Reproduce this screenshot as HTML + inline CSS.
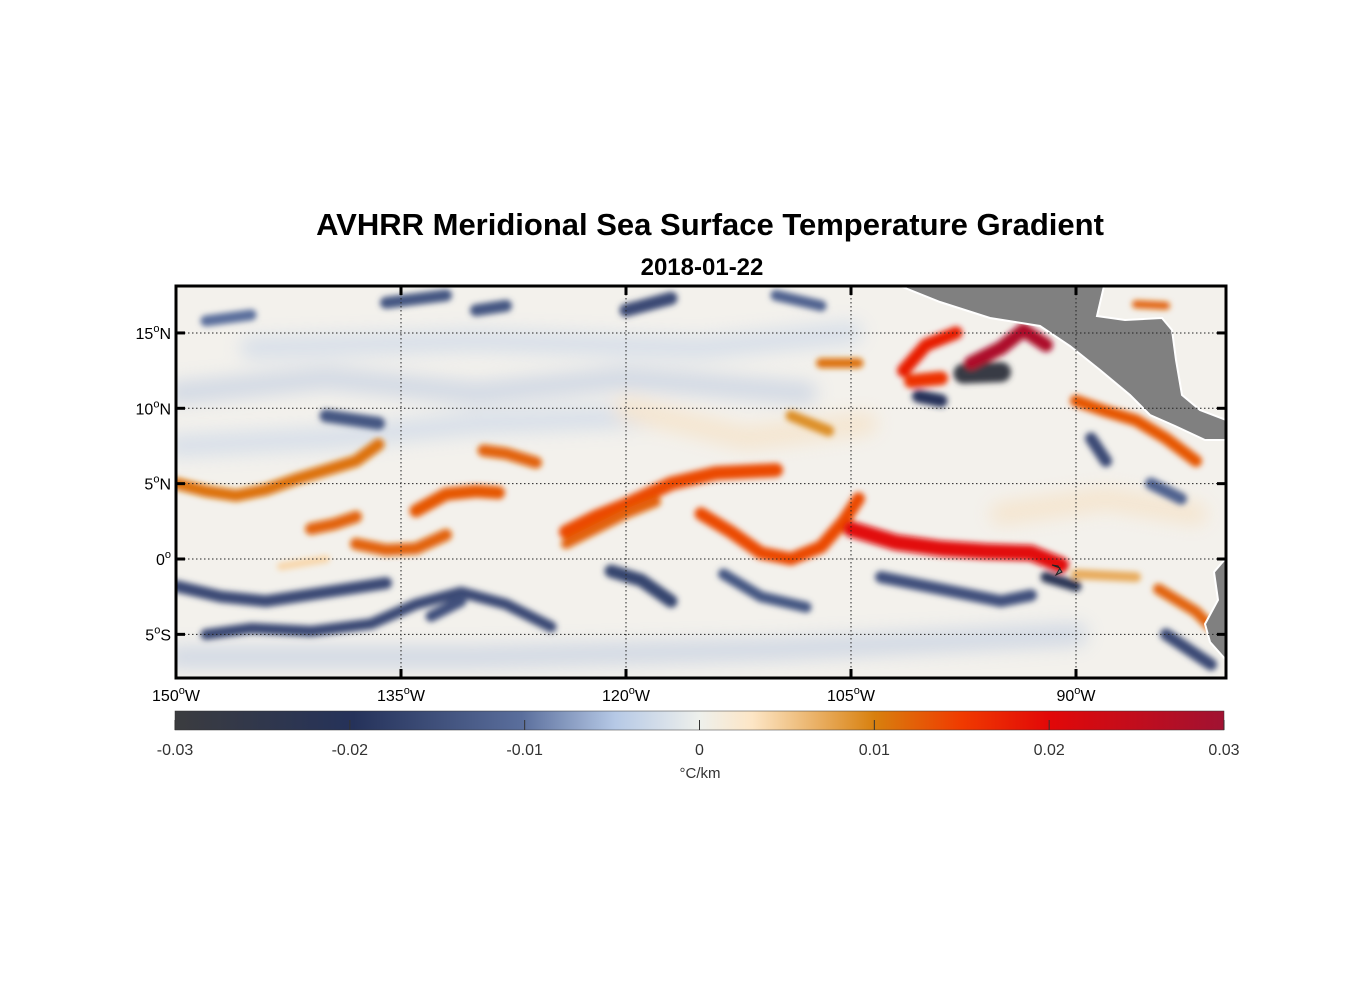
<!DOCTYPE html>
<html><head><meta charset="utf-8">
<style>
body{margin:0;background:#fff;width:1356px;height:1000px;overflow:hidden;font-family:"Liberation Sans",sans-serif}
</style></head>
<body>
<svg id="chart" width="1356" height="1000" xmlns="http://www.w3.org/2000/svg" font-family="Liberation Sans, sans-serif">
<defs>
<filter id="blur" x="-20%" y="-50%" width="140%" height="200%"><feGaussianBlur stdDeviation="3"/></filter>
<filter id="blur2" x="-20%" y="-50%" width="140%" height="200%"><feGaussianBlur stdDeviation="9"/></filter>
<clipPath id="mapclip"><rect x="176" y="286" width="1050" height="392"/></clipPath>
<linearGradient id="cbgrad" x1="0" x2="1" y1="0" y2="0">
<stop offset="0" stop-color="#3b3c3f"/>
<stop offset="0.17" stop-color="#25325a"/>
<stop offset="0.33" stop-color="#5a6e9c"/>
<stop offset="0.42" stop-color="#b6c9e6"/>
<stop offset="0.5" stop-color="#eef0ec"/>
<stop offset="0.55" stop-color="#fde6c6"/>
<stop offset="0.667" stop-color="#d8800e"/>
<stop offset="0.75" stop-color="#f03a00"/>
<stop offset="0.833" stop-color="#e20808"/>
<stop offset="1" stop-color="#a01232"/>
</linearGradient>
</defs>
<text x="710" y="235" text-anchor="middle" font-size="31" font-weight="bold">AVHRR Meridional Sea Surface Temperature Gradient</text>
<text x="702" y="275" text-anchor="middle" font-size="24" font-weight="bold">2018-01-22</text>
<g id="map" clip-path="url(#mapclip)">
<rect x="176" y="286" width="1050" height="392" fill="#f3f1ec"/>
<g id="soft" filter="url(#blur2)" opacity="0.45"></g>
<g id="bands" filter="url(#blur)"></g>
<path d="M900,286 L940,302 L990,318 L1040,326 L1070,346 L1100,370 L1130,395 L1150,415 L1175,426 L1205,440 L1226,440 L1226,420 L1200,410 L1182,395 L1176,360 L1172,330 L1162,318 L1125,320 L1097,316 L1104,286 Z" fill="#808080" stroke="#fff" stroke-width="2"/>
<path d="M1226,558 L1214,572 L1218,600 L1205,624 L1210,642 L1226,660 Z" fill="#808080" stroke="#fff" stroke-width="2"/>
<path d="M1052,565 L1060,568 L1056,575 L1062,572 L1058,566 Z" fill="#808080" stroke="#222" stroke-width="1"/>
<g id="grid"></g>
</g>
<rect x="176" y="286" width="1050" height="392" fill="none" stroke="#000" stroke-width="3"/>
<g id="ticks"></g>
<rect x="175" y="711" width="1049" height="19" fill="url(#cbgrad)" stroke="#333" stroke-width="0.5"/>
<g id="cbticks"></g>
<text x="700" y="778" text-anchor="middle" font-size="15" fill="#333">°C/km</text>
</svg>
<script>
const lonTicks=[-150,-135,-120,-105,-90];
const lonLabels=["150","135","120","105","90"];
const latTicks=[15,10,5,0,-5];
const latLabels=["15","10","5","0","5"];
const latSuffix=["N","N","N","","S"];
const cbTicks=[-0.03,-0.02,-0.01,0,0.01,0.02,0.03];
const cbLabels=["-0.03","-0.02","-0.01","0","0.01","0.02","0.03"];
const bandPaths=[
 [[-150,5],[-148,4.5],[-146,4.2],[-144,4.6],[-142,5.3],[-140,5.9],[-138,6.5],[-136.5,7.6]],
 [[-141,2],[-139.5,2.3],[-138,2.8]],
 [[-138,1],[-136,0.6],[-134,0.7],[-132,1.6]],
 [[-134,3.2],[-132,4.3],[-130,4.5],[-128.5,4.4]],
 [[-129.5,7.2],[-128,7],[-126,6.4]],
 [[-124,1.8],[-122,2.8],[-120,3.6],[-117,5],[-114,5.7],[-110,5.9]],
 [[-124,1],[-122,2],[-120,3],[-118,3.8]],
 [[-115,3],[-113,1.8],[-111,0.4],[-109,0],[-107,0.8],[-105.5,2.5],[-104.5,4]],
 [[-105,2],[-102,1.1],[-99,0.7],[-96,0.5],[-93,0.4],[-91,-0.4]],
 [[-101.5,12.5],[-100,14.2],[-98,15]],
 [[-97,13],[-95,14],[-93.5,15.2],[-92,14.2]],
 [[-101,11.8],[-99,12]],
 [[-90,10.5],[-88,9.8],[-86,9.2],[-84,8],[-82,6.5]],
 [[-107,13],[-104.5,13]],
 [[-109,9.5],[-106.5,8.5]],
 [[-86,16.9],[-84,16.8]],
 [[-84.5,-2],[-82,-3.5],[-81,-4.5]],
 [[-90,-1],[-86,-1.2]],
 [[-143,-0.5],[-140,0]]
];
const bandValues=[0.011,0.012,0.012,0.013,0.012,0.014,0.012,0.014,0.02,0.018,0.028,0.016,0.013,0.011,0.009,0.012,0.012,0.007,0.004];
const bandWidths=[12,12,12,13,12,14,10,13,16,13,14,14,12,10,11,8,11,10,8];
const bluePaths=[
 [[-150,-1.8],[-147,-2.5],[-144,-2.8],[-140,-2.2],[-136,-1.6]],
 [[-148,-5],[-145,-4.6],[-141,-4.8],[-137,-4.3],[-134,-3],[-131,-2.2],[-128,-3],[-125,-4.5]],
 [[-121,-0.8],[-119,-1.4],[-117,-2.8]],
 [[-113.5,-1],[-111,-2.5],[-108,-3.2]],
 [[-103,-1.2],[-99,-2],[-95,-2.8],[-93,-2.4]],
 [[-97.5,12.3],[-95,12.4]],
 [[-100.5,10.8],[-99,10.5]],
 [[-140,9.5],[-136.5,9]],
 [[-130,16.5],[-128,16.8]],
 [[-120,16.5],[-117,17.3]],
 [[-89,8],[-88,6.5]],
 [[-85,5],[-83,4]],
 [[-84,-5],[-81,-7]],
 [[-136,17],[-132,17.5]],
 [[-110,17.5],[-107,16.8]],
 [[-148,15.8],[-145,16.2]],
 [[-133,-3.8],[-131,-2.8]],
 [[-92,-1.2],[-90,-1.8]]
];
const blueValues=[-0.016,-0.016,-0.017,-0.014,-0.015,-0.028,-0.02,-0.014,-0.014,-0.016,-0.016,-0.012,-0.016,-0.014,-0.012,-0.01,-0.015,-0.022];
const blueWidths=[12,11,13,11,12,20,13,13,12,13,12,12,12,12,11,11,11,11];
const softPaths=[
 [[-150,11],[-140,12],[-130,11],[-120,12],[-108,11]],
 [[-145,14],[-130,14.5],[-115,14],[-105,15]],
 [[-150,-6.5],[-130,-6.5],[-110,-6],[-90,-5]],
 [[-150,7.5],[-140,8],[-130,9],[-118,9.5]],
 [[-120,10],[-112,8],[-104,9]],
 [[-95,3],[-88,4],[-82,3]]
];
const softValues=[-0.005,-0.004,-0.005,-0.004,0.004,0.004];
const x0=176,pxPerDeg=15.0,lonMin=-150,y0=559,pxPerLat=15.07;
const xs=lon=>x0+(lon-lonMin)*pxPerDeg;
const ys=lat=>y0-lat*pxPerLat;
function color(v){
 const st=[[-0.03,[59,60,63]],[-0.02,[37,50,90]],[-0.01,[90,110,156]],[-0.004,[182,201,230]],[0,[238,240,236]],[0.003,[253,230,198]],[0.01,[216,128,14]],[0.015,[240,58,0]],[0.02,[226,8,8]],[0.03,[160,18,50]]];
 if(v<=st[0][0])return `rgb(${st[0][1]})`;
 for(let i=1;i<st.length;i++){if(v<=st[i][0]){const t=(v-st[i-1][0])/(st[i][0]-st[i-1][0]);const c=st[i-1][1].map((a,k)=>Math.round(a+(st[i][1][k]-a)*t));return `rgb(${c})`;}}
 return `rgb(${st[st.length-1][1]})`;
}
const NS="http://www.w3.org/2000/svg";
function poly(pts){return pts.map((p,i)=>(i?'L':'M')+xs(p[0]).toFixed(1)+','+ys(p[1]).toFixed(1)).join(' ');}
function drawSet(g,paths,vals,widths,name){
 paths.forEach((pts,i)=>{const el=document.createElementNS(NS,'path');el.setAttribute('d',poly(pts));el.setAttribute('fill','none');el.setAttribute('stroke',color(vals[i]));el.setAttribute('stroke-width',widths?widths[i]:22);el.setAttribute('stroke-linecap','round');el.setAttribute('stroke-linejoin','round');
 
 
 g.appendChild(el);});
}
drawSet(document.getElementById('soft'),softPaths,softValues,null,'weak-gradient-zone');
const bg=document.getElementById('bands');
drawSet(bg,bluePaths,blueValues,blueWidths,'negative-gradient-band');
drawSet(bg,bandPaths,bandValues,bandWidths,'positive-gradient-band');
const grid=document.getElementById('grid'),ticks=document.getElementById('ticks');
function line(g,x1,y1,x2,y2,attrs){const l=document.createElementNS(NS,'line');l.setAttribute('x1',x1);l.setAttribute('y1',y1);l.setAttribute('x2',x2);l.setAttribute('y2',y2);for(const k in attrs)l.setAttribute(k,attrs[k]);g.appendChild(l);return l;}
function text(g,x,y,s,anchor,size){const t=document.createElementNS(NS,'text');t.setAttribute('x',x);t.setAttribute('y',y);t.setAttribute('text-anchor',anchor);t.setAttribute('font-size',size);t.innerHTML=s;g.appendChild(t);return t;}
lonTicks.forEach((lon,i)=>{const x=xs(lon);
 const gl=line(grid,x,286,x,678,{stroke:'#222','stroke-width':1,'stroke-dasharray':'1.5,2.5'});
 
 
 line(ticks,x,286,x,295,{stroke:'#000','stroke-width':3});line(ticks,x,669,x,678,{stroke:'#000','stroke-width':3});
 const t=text(ticks,x,701,lonLabels[i]+'<tspan font-size="11" dy="-7">o</tspan><tspan dy="7">W</tspan>','middle',16);
 
 
});
latTicks.forEach((lat,i)=>{const y=ys(lat);
 const gl=line(grid,176,y,1226,y,{stroke:'#222','stroke-width':1,'stroke-dasharray':'1.5,2.5'});
 
 
 line(ticks,176,y,185,y,{stroke:'#000','stroke-width':3});line(ticks,1217,y,1226,y,{stroke:'#000','stroke-width':3});
 const t=text(ticks,171,y+6,latLabels[i]+'<tspan font-size="11" dy="-7">o</tspan><tspan dy="7">'+latSuffix[i]+'</tspan>','end',16);
 
 
});
const cb=document.getElementById('cbticks');
const cbx=v=>175+(v+0.03)/0.06*1049;
cbTicks.forEach((v,i)=>{const x=cbx(v);
 line(cb,x,720,x,730,{stroke:'#333','stroke-width':1});
 const t=text(cb,x,755,cbLabels[i],'middle',16);t.setAttribute('fill','#333');
 
 
});
</script>
</body></html>
